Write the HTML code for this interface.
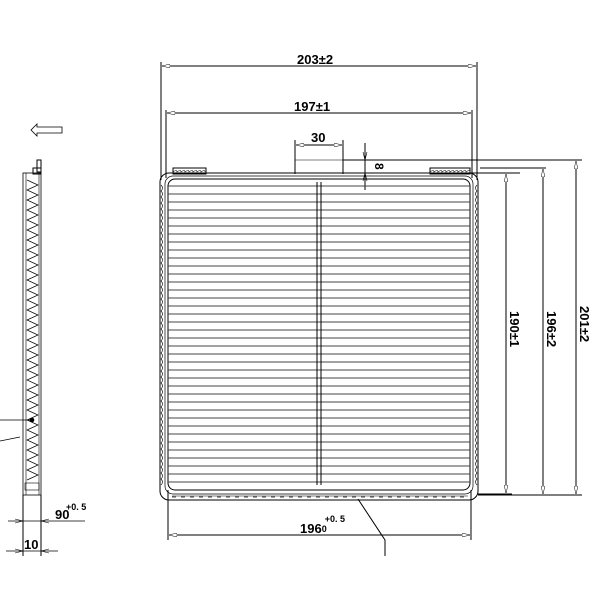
<!DOCTYPE html><html><head><style>body{margin:0;background:#fff}svg{display:block}text{font-family:"Liberation Sans",sans-serif;font-weight:bold;fill:#000}</style></head><body>
<svg width="600" height="600" viewBox="0 0 600 600" xmlns="http://www.w3.org/2000/svg" fill="none" stroke="#000" stroke-width="1">
<defs><marker id="a" markerWidth="8" markerHeight="4" refX="8" refY="2" orient="auto-start-reverse"><path d="M0,0L8,2L0,4z" fill="#fff" stroke="#000" stroke-width="0.5"/></marker></defs>
<line x1="161" y1="62" x2="161" y2="180"/><line x1="477" y1="62" x2="477" y2="180"/>
<line x1="162" y1="66" x2="476" y2="66" marker-start="url(#a)" marker-end="url(#a)"/>
<text x="297" y="64" font-size="13" stroke="none">203±2</text>
<line x1="166" y1="110" x2="166" y2="178"/><line x1="472" y1="110" x2="472" y2="178"/>
<line x1="167" y1="113" x2="471" y2="113" marker-start="url(#a)" marker-end="url(#a)"/>
<text x="294" y="111" font-size="13" stroke="none">197±1</text>
<line x1="295" y1="140" x2="295" y2="174"/><line x1="343" y1="140" x2="343" y2="174"/>
<line x1="296" y1="145" x2="342" y2="145" marker-start="url(#a)" marker-end="url(#a)"/>
<text x="311" y="142" font-size="13" stroke="none">30</text>
<line x1="295" y1="160" x2="343" y2="160" stroke-width="0.6"/>
<line x1="343" y1="160" x2="582" y2="160"/><line x1="345" y1="173" x2="520" y2="173"/>
<line x1="365" y1="143" x2="365" y2="190"/><path d="M363,152L365,160L367,152M363,181L365,173L367,181" stroke-width="0.6"/>
<text x="367" y="165" font-size="12" stroke="none" transform="rotate(90 372 168)">8</text>
<line x1="478" y1="495" x2="582" y2="495"/><line x1="480" y1="168" x2="546" y2="168"/><line x1="478" y1="494" x2="512" y2="494"/>
<line x1="576" y1="161" x2="576" y2="494" marker-start="url(#a)" marker-end="url(#a)"/>
<line x1="543" y1="169" x2="543" y2="494" marker-start="url(#a)" marker-end="url(#a)"/>
<line x1="506" y1="174" x2="506" y2="493" marker-start="url(#a)" marker-end="url(#a)"/>
<text font-size="13" stroke="none" transform="translate(580,306) rotate(90)">201±2</text>
<text font-size="13" stroke="none" transform="translate(547,311) rotate(90)">196±2</text>
<text font-size="13" stroke="none" transform="translate(510,311) rotate(90)">190±1</text>
<rect x="173" y="168" width="33" height="6"/><rect x="430" y="168" width="40" height="6"/>
<path d="M173,172 q4,-3 4,0 q4,-3 4,0 q4,-3 4,0 q4,-3 4,0 q4,-3 4,0 q4,-3 4,0 q4,-3 4,0 q4,-3 4,0M430,172 q4,-3 4,0 q4,-3 4,0 q4,-3 4,0 q4,-3 4,0 q4,-3 4,0 q4,-3 4,0 q4,-3 4,0 q4,-3 4,0 q4,-3 4,0 q4,-3 4,0" stroke-width="0.6"/>
<rect x="160" y="173" width="318" height="327" rx="9"/>
<rect x="165" y="176" width="308" height="318" rx="8" stroke-width="0.7"/>
<rect x="168" y="179" width="302" height="311" rx="7"/>
<path stroke="#444" stroke-width="0.9" d="
M168,186H470M168,194H470M168,202H470M168,210H470M168,218H470M168,226H470M168,234H470M168,242H470M168,250H470M168,258H470M168,266H470M168,274H470M168,282H470M168,290H470M168,298H470M168,306H470M168,314H470M168,322H470M168,330H470M168,338H470M168,346H470M168,354H470M168,362H470M168,370H470M168,378H470M168,386H470M168,394H470M168,402H470M168,410H470M168,418H470M168,426H470M168,434H470M168,442H470M168,450H470M168,458H470M168,466H470M168,474H470M168,482H470"/>
<line x1="317" y1="182" x2="317" y2="485"/><line x1="321" y1="182" x2="321" y2="485"/>
<path stroke-width="0.6" d="M172,496H468"/>
<path stroke-width="0.6" d="M161,185 q3,3 0,6 q3,3 0,6 q3,3 0,6 q3,3 0,6 q3,3 0,6 q3,3 0,6 q3,3 0,6 q3,3 0,6 q3,3 0,6 q3,3 0,6 q3,3 0,6 q3,3 0,6 q3,3 0,6 q3,3 0,6 q3,3 0,6 q3,3 0,6 q3,3 0,6 q3,3 0,6 q3,3 0,6 q3,3 0,6 q3,3 0,6 q3,3 0,6 q3,3 0,6 q3,3 0,6 q3,3 0,6 q3,3 0,6 q3,3 0,6 q3,3 0,6 q3,3 0,6 q3,3 0,6 q3,3 0,6 q3,3 0,6 q3,3 0,6 q3,3 0,6 q3,3 0,6 q3,3 0,6 q3,3 0,6 q3,3 0,6 q3,3 0,6 q3,3 0,6 q3,3 0,6 q3,3 0,6 q3,3 0,6 q3,3 0,6 q3,3 0,6 q3,3 0,6 q3,3 0,6 q3,3 0,6 q3,3 0,6 q3,3 0,6
M477,185 q-3,3 0,6 q-3,3 0,6 q-3,3 0,6 q-3,3 0,6 q-3,3 0,6 q-3,3 0,6 q-3,3 0,6 q-3,3 0,6 q-3,3 0,6 q-3,3 0,6 q-3,3 0,6 q-3,3 0,6 q-3,3 0,6 q-3,3 0,6 q-3,3 0,6 q-3,3 0,6 q-3,3 0,6 q-3,3 0,6 q-3,3 0,6 q-3,3 0,6 q-3,3 0,6 q-3,3 0,6 q-3,3 0,6 q-3,3 0,6 q-3,3 0,6 q-3,3 0,6 q-3,3 0,6 q-3,3 0,6 q-3,3 0,6 q-3,3 0,6 q-3,3 0,6 q-3,3 0,6 q-3,3 0,6 q-3,3 0,6 q-3,3 0,6 q-3,3 0,6 q-3,3 0,6 q-3,3 0,6 q-3,3 0,6 q-3,3 0,6 q-3,3 0,6 q-3,3 0,6 q-3,3 0,6 q-3,3 0,6 q-3,3 0,6 q-3,3 0,6 q-3,3 0,6 q-3,3 0,6 q-3,3 0,6 q-3,3 0,6"/>
<path stroke-width="0.7" d="M172,497h4m5,0h4m5,0h4m5,0h4m5,0h4m5,0h4m5,0h4m5,0h4m5,0h4m5,0h4m5,0h4m5,0h4m5,0h4m5,0h4m5,0h4m5,0h4m5,0h4m5,0h4m5,0h4m5,0h4m5,0h4m5,0h4m5,0h4m5,0h4m5,0h4m5,0h4m5,0h4m5,0h4m5,0h4m5,0h4m5,0h4m5,0h4m5,0h4"/>
<line x1="168" y1="490" x2="168" y2="540"/><line x1="471" y1="490" x2="471" y2="540"/>
<line x1="169" y1="535" x2="470" y2="535" marker-start="url(#a)" marker-end="url(#a)"/>
<text x="300" y="533" font-size="13" stroke="none">196<tspan font-size="9" dy="-1">0</tspan><tspan font-size="9" dy="-10" dx="-2">+0. 5</tspan></text>
<path d="M358,499L385,540V556"/>
<path d="M37,124l-6,6 6,6v-3h25v-6h-25z" stroke-width="0.8"/>
<rect x="37" y="160" width="4" height="12"/><rect x="33" y="168" width="8" height="6"/>
<rect x="23" y="173" width="18" height="322" stroke-width="0.8"/>
<line x1="26" y1="173" x2="26" y2="495" stroke-width="0.6"/><line x1="39" y1="173" x2="39" y2="495" stroke-width="0.6"/>
<path stroke-width="0.7" d="M27,180 L38,185 L27,190 L38,195 L27,200 L38,205 L27,210 L38,215 L27,220 L38,225 L27,230 L38,235 L27,240 L38,245 L27,250 L38,255 L27,260 L38,265 L27,270 L38,275 L27,280 L38,285 L27,290 L38,295 L27,300 L38,305 L27,310 L38,315 L27,320 L38,325 L27,330 L38,335 L27,340 L38,345 L27,350 L38,355 L27,360 L38,365 L27,370 L38,375 L27,380 L38,385 L27,390 L38,395 L27,400 L38,405 L27,410 L38,415 L27,420 L38,425 L27,430 L38,435 L27,440 L38,445 L27,450 L38,455 L27,460 L38,465 L27,470 L38,475 L27,480"/>
<rect x="25" y="483" width="14" height="7" stroke-width="0.6"/>
<circle cx="32" cy="420" r="1.8" fill="#000"/>
<path d="M0,420H32M0,441L20,437" stroke-width="0.8"/>
<line x1="23" y1="495" x2="23" y2="556"/><line x1="41" y1="495" x2="41" y2="556"/>
<line x1="8" y1="521" x2="85" y2="521" stroke-width="0.8"/>
<path d="M15,519l8,2-8,2M49,519l-8,2 8,2" stroke-width="0.6"/>
<text x="55" y="519" font-size="13" stroke="none">90</text><text x="66" y="510" font-size="9" stroke="none">+0. 5</text>
<line x1="6" y1="551" x2="58" y2="551" stroke-width="0.8"/>
<path d="M15,549l8,2-8,2M49,549l-8,2 8,2" stroke-width="0.6"/>
<text x="24" y="549" font-size="13" stroke="none">10</text>
</svg></body></html>
